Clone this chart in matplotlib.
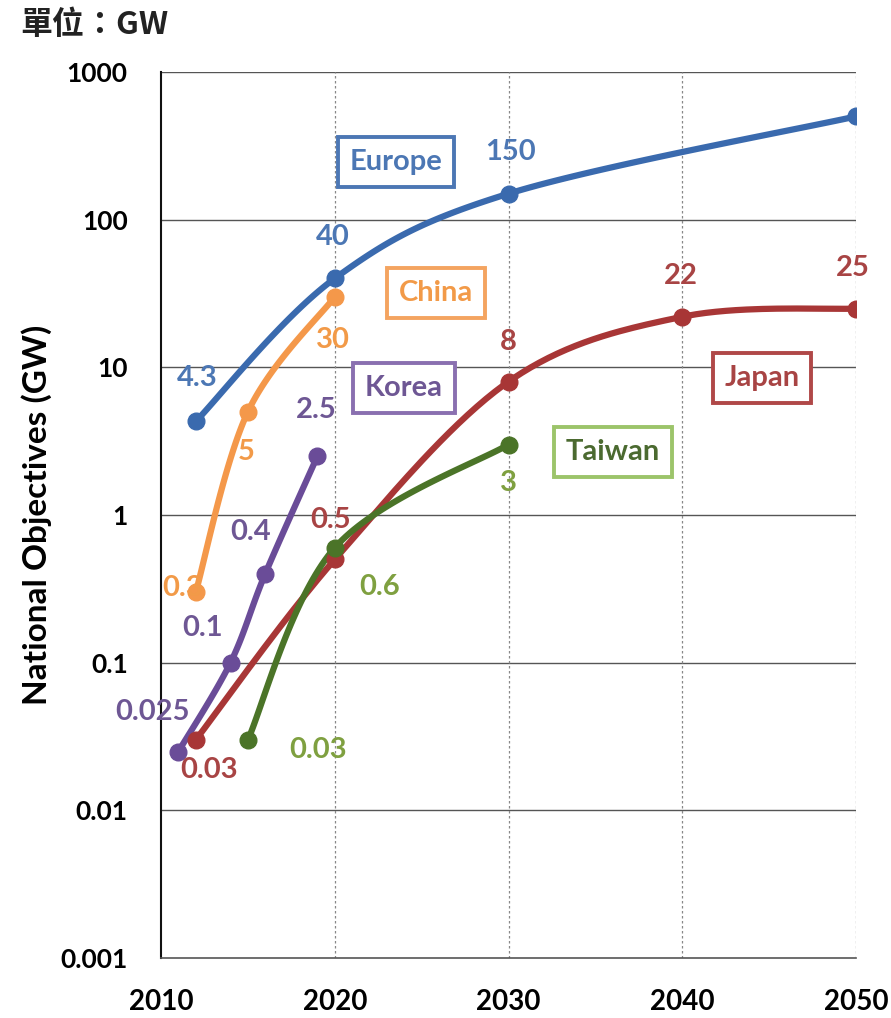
import numpy as np
import matplotlib
matplotlib.use("Agg")
import matplotlib.pyplot as plt

# ---- data ----
europe_x = [2012, 2020, 2030, 2050]
europe_y = [4.3, 40, 150, 500]
china_x = [2012, 2015, 2020]
china_y = [0.3, 5, 30]
korea_x = [2011, 2014, 2016, 2019]
korea_y = [0.025, 0.1, 0.4, 2.5]
japan_x = [2012, 2020, 2030, 2040, 2050]
japan_y = [0.03, 0.5, 8, 22, 25]
taiwan_x = [2015, 2020, 2030]
taiwan_y = [0.03, 0.6, 3]

x_ticks = [2010, 2020, 2030, 2040, 2050]
y_ticks = [0.001, 0.01, 0.1, 1, 10, 100, 1000]
y_tick_labels = ["0.001", "0.01", "0.1", "1", "10", "100", "1000"]

FONT = ["Lato", "DejaVu Sans"]


def smooth(xs, ys, n=40):
    """Excel-like smoothed line (Catmull-Rom Bezier) in (x, log10 y) space."""
    P = np.column_stack([np.asarray(xs, float), np.log10(np.asarray(ys, float))])
    out = []
    m = len(P)
    for i in range(m - 1):
        p0 = P[max(i - 1, 0)]
        p1 = P[i]
        p2 = P[i + 1]
        p3 = P[min(i + 2, m - 1)]
        b1 = p1 + (p2 - p0) / 6.0
        b2 = p2 - (p3 - p1) / 6.0
        t = np.linspace(0, 1, n)[:, None]
        seg = ((1 - t) ** 3) * p1 + 3 * ((1 - t) ** 2) * t * b1 + 3 * (1 - t) * t ** 2 * b2 + t ** 3 * p2
        out.append(seg if i == 0 else seg[1:])
    S = np.vstack(out)
    return S[:, 0], 10 ** S[:, 1]


fig = plt.figure(figsize=(8.91, 10.18), dpi=100)
ax = fig.add_axes([161 / 891, 1 - 958 / 1018, (856 - 161) / 891, (958 - 72) / 1018])
ax.set_yscale("log")
ax.set_xlim(2010, 2050)
ax.set_ylim(0.001, 1000)

# grid
for yv in y_ticks[1:]:
    ax.axhline(yv, color="#555555", lw=1.0, zorder=1)
for xv in x_ticks[1:]:
    ax.axvline(xv, color="#888888", lw=0.9, ls=(0, (2, 2)), zorder=1)

for s in ["top", "right"]:
    ax.spines[s].set_visible(False)
ax.spines["left"].set_color("#111111")
ax.spines["left"].set_linewidth(1.5)
ax.spines["bottom"].set_color("#555555")
ax.spines["bottom"].set_linewidth(1.2)

ax.set_xticks(x_ticks)
ax.set_xticklabels([str(v) for v in x_ticks], fontsize=20, fontweight="bold", family=FONT)
ax.set_yticks(y_ticks)
ax.set_yticklabels(y_tick_labels, fontsize=19, fontweight="bold", family=FONT)
ax.yaxis.set_minor_locator(matplotlib.ticker.NullLocator())
ax.tick_params(axis="both", length=0)
ax.tick_params(axis="x", pad=22)
ax.tick_params(axis="y", pad=24)
ax.set_ylabel("National Objectives (GW)", fontsize=24, fontweight="bold", family=FONT, labelpad=6)

series = [
    (europe_x, europe_y, "#3A6AAE"),
    (china_x, china_y, "#F4984A"),
    (korea_x, korea_y, "#6A4C98"),
    (japan_x, japan_y, "#A83636"),
    (taiwan_x, taiwan_y, "#4B7428"),
]
for xs, ys, c in series:
    sx, sy = smooth(xs, ys)
    ax.plot(sx, sy, color=c, lw=4.5, solid_capstyle="round", zorder=3)
    ax.plot(xs, ys, "o", color=c, ms=12, zorder=4)


def px(xp, yp):
    return 2010 + (xp - 161) / ((856 - 161) / 40), 10 ** (3 - (yp - 72) / ((958 - 72) / 6))


def lab(txt, xp, yp, c, size=21):
    x, y = px(xp, yp)
    ax.text(x, y, txt, color=c, fontsize=size, fontweight="bold", family=FONT,
            ha="center", va="center", zorder=5)


def box(txt, xp, yp, edge, tc):
    x, y = px(xp, yp)
    ax.text(x, y, txt, color=tc, fontsize=21, fontweight="bold", family=FONT,
            ha="center", va="center", zorder=6,
            bbox=dict(boxstyle="square,pad=0.4", fc="white", ec=edge, lw=2.8))


blue_t = "#4C77B4"
orange_t = "#F29A48"
purple_t = "#6E5794"
red_t = "#A84444"
green_t = "#7FA040"

lab("4.3", 197, 378, blue_t)
lab("40", 333, 237, blue_t)
lab("150", 510, 152, blue_t)
box("Europe", 396, 162, "#4C77B4", blue_t)

lab("30", 333, 340, orange_t)
lab("5", 246, 452, orange_t)
lab("0.3", 183, 588, orange_t)
box("China", 436, 293, "#F4A460", orange_t)

lab("2.5", 316, 410, purple_t)
lab("0.4", 251, 532, purple_t)
lab("0.1", 203, 628, purple_t)
lab("0.025", 152, 712, purple_t)
box("Korea", 404, 388, "#8A70B0", purple_t)

lab("0.03", 209, 770, red_t)
lab("0.5", 331, 520, red_t)
lab("8", 508, 342, red_t)
lab("22", 681, 276, red_t)
lab("25", 853, 268, red_t)
box("Japan", 762, 378, "#B04848", red_t)

lab("0.03", 318, 750, green_t)
lab("0.6", 380, 587, green_t)
lab("3", 508, 483, green_t)
box("Taiwan", 613, 452, "#9CC46A", "#4B6A30")

fig.text(20 / 891, 1 - 25 / 1018, "單位：GW", fontsize=23, fontweight="bold",
         family=["Noto Sans CJK TC", "DejaVu Sans"], ha="left", va="center", color="#222222")

fig.savefig("out.png", dpi=100, facecolor="white")
